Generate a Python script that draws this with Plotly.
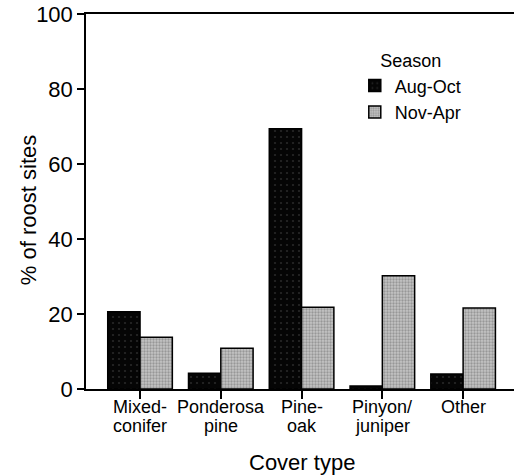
import plotly.graph_objects as go

categories = ["Mixed-conifer", "Ponderosa pine", "Pine-oak", "Pinyon/juniper", "Other"]
label_line1 = ["Mixed-", "Ponderosa", "Pine-", "Pinyon/", "Other"]
label_line2 = ["conifer", "pine", "oak", "juniper", ""]
aug_oct = [20.6, 4.2, 69.4, 0.8, 4.0]
nov_apr = [13.8, 10.9, 21.8, 30.2, 21.6]
y_ticks = [0, 20, 40, 60, 80, 100]

FONT = "Liberation Sans, Arial, Helvetica, sans-serif"

fig = go.Figure()
fig.add_trace(go.Bar(
    x=categories, y=aug_oct, name="Aug-Oct",
    marker=dict(color="#050505", line=dict(color="black", width=1.5),
                pattern=dict(shape=".", fgcolor="#4a4a4a", size=6, solidity=0.1)),
))
fig.add_trace(go.Bar(
    x=categories, y=nov_apr, name="Nov-Apr",
    marker=dict(color="#c4c4c4", line=dict(color="black", width=1.5),
                pattern=dict(shape=".", fgcolor="#6a6a6a", size=3, solidity=0.45)),
))

annotations = []
for cat, l1, l2 in zip(categories, label_line1, label_line2):
    annotations.append(dict(x=cat, xref="x", y=-0.048, yref="paper", text=l1,
                            showarrow=False, xanchor="center", yanchor="middle",
                            font=dict(size=18)))
    if l2:
        annotations.append(dict(x=cat, xref="x", y=-0.0987, yref="paper", text=l2,
                                showarrow=False, xanchor="center", yanchor="middle",
                                font=dict(size=18)))
annotations.append(dict(x=0.505, xref="paper", y=-0.195, yref="paper", text="Cover type",
                        showarrow=False, xanchor="center", yanchor="middle",
                        font=dict(size=22)))
annotations.append(dict(x=-0.1355, xref="paper", y=0.477, yref="paper", text="% of roost sites",
                        showarrow=False, xanchor="center", yanchor="middle", textangle=-90,
                        font=dict(size=22)))

fig.update_layout(
    width=514, height=476,
    margin=dict(l=86, r=0, t=14, b=87, autoexpand=False),
    paper_bgcolor="white", plot_bgcolor="white",
    font=dict(family=FONT, color="black", size=18),
    barmode="group", bargap=0.2, bargroupgap=0,
    showlegend=True,
    legend=dict(
        title=dict(text="Season", side="top center", font=dict(size=18)),
        x=0.628, y=0.920, xanchor="left", yanchor="top",
        bgcolor="rgba(0,0,0,0)", font=dict(size=18),
        tracegroupgap=0, itemwidth=30,
    ),
    annotations=annotations,
    xaxis=dict(
        type="category", range=[-0.669, 4.63], automargin=False,
        showline=True, linecolor="black", linewidth=1.5, mirror=True,
        ticks="outside", ticklen=8, tickwidth=1.5, tickcolor="black",
        showticklabels=False, showgrid=False, zeroline=False,
    ),
    yaxis=dict(
        range=[0, 100], tickvals=y_ticks, automargin=False,
        showline=True, linecolor="black", linewidth=1.5,
        ticks="outside", ticklen=7, tickwidth=1.5, tickcolor="black",
        tickfont=dict(size=22), showgrid=False, zeroline=False,
        ticklabeloverflow="allow",
    ),
)

# remove the browser's default 8px body margin so the figure fills the window
fig.write_html("out.html", config={"displayModeBar": False},
               post_script="document.body.style.margin='0px';")
